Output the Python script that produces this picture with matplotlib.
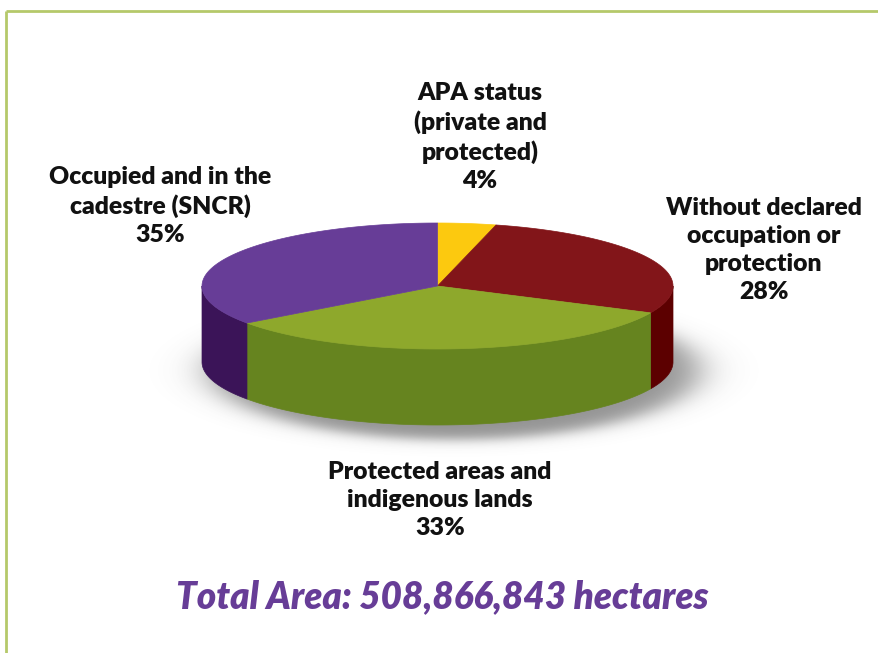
import numpy as np
import matplotlib
matplotlib.use("Agg")
import matplotlib.pyplot as plt
from matplotlib.patches import Polygon

labels = ["APA status\n(private and\nprotected)", "Without declared\noccupation or\nprotection",
          "Protected areas and\nindigenous lands", "Occupied and in the\ncadestre (SNCR)"]
shares = [4, 28, 33, 35]
top_colors = ["#fcc90f", "#821519", "#8ea82c", "#673d97"]
side_colors = ["#c99d00", "#5c0000", "#66841f", "#3b1458"]
title = "Total Area: 508,866,843 hectares"

W, H = 879, 653
fig = plt.figure(figsize=(W / 100, H / 100), dpi=100)
ax = fig.add_axes([0, 0, 1, 1])
ax.set_xlim(0, W)
ax.set_ylim(H, 0)
ax.axis("off")

# frame lines
ax.plot([6, W], [11, 11], color="#b5c96a", lw=2, solid_capstyle="butt")
ax.plot([6, 6], [11, H], color="#b5c96a", lw=2, solid_capstyle="butt")

cx, cy, rx, ry, depth = 437.5, 286, 235.5, 63, 76

# shadow
xs = np.arange(0, W)
ys = np.arange(0, H)
X, Y = np.meshgrid(xs, ys)
scx, scy, srx, sry = cx + 16, cy + depth + 8, rx + 8, ry + 6
d = np.sqrt(((X - scx) / srx) ** 2 + ((Y - scy) / sry) ** 2)
alpha = 0.6 / (1 + np.exp((d - 1) / 0.05))
rgba = np.zeros((H, W, 4))
rgba[..., :3] = 0.3
rgba[..., 3] = alpha
ax.imshow(rgba, extent=(0, W, H, 0), zorder=1, interpolation="bilinear")

def pt(theta):
    return cx + rx * np.sin(theta), cy - ry * np.cos(theta)

total = sum(shares)
start = 0.0
for v, tc, sc in zip(shares, top_colors, side_colors):
    a0 = start
    a1 = start + 2 * np.pi * v / total
    start = a1
    lo, hi = max(a0, np.pi / 2), min(a1, 3 * np.pi / 2)
    if hi > lo:
        th = np.linspace(lo, hi, 100)
        x, y = pt(th)
        poly = np.vstack([np.column_stack([x, y]), np.column_stack([x[::-1], y[::-1] + depth])])
        ax.add_patch(Polygon(poly, closed=True, facecolor=sc, edgecolor=sc, lw=0.5, zorder=2))
    th = np.linspace(a0, a1, 200)
    x, y = pt(th)
    poly = np.vstack([[cx, cy], np.column_stack([x, y])])
    ax.add_patch(Polygon(poly, closed=True, facecolor=tc, edgecolor=tc, lw=0.5, zorder=3))

lab_pos = [(480, 137), (764, 250), (440, 500), (160, 206)]
for lab, v, (lx, ly) in zip(labels, shares, lab_pos):
    ax.text(lx, ly, f"{lab}\n{v}%", ha="center", va="center", fontsize=17.8,
            fontweight="heavy", family="Lato", color="#111111", linespacing=1.33, zorder=5)

ax.text(442, 597, title, ha="center", va="center", fontsize=26.5, fontweight="heavy",
        style="italic", family="Lato", color="#673d97", zorder=5)

fig.savefig("out.png", dpi=100)
